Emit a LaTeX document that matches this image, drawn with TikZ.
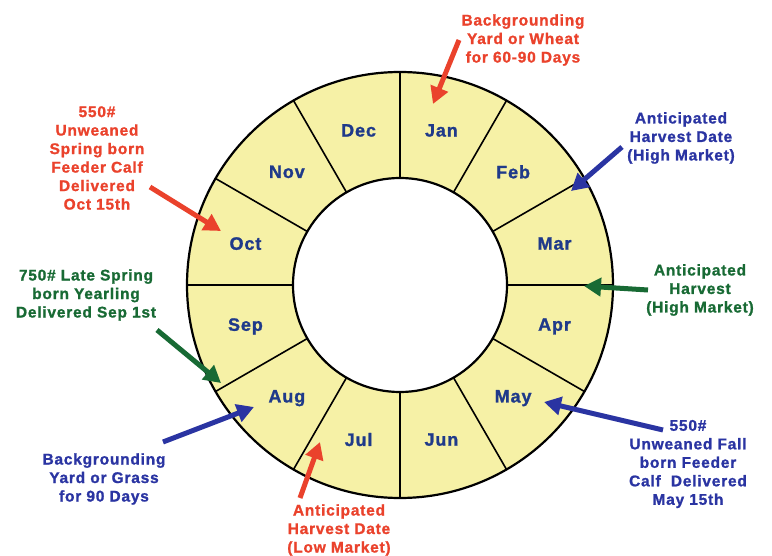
\documentclass[tikz,border=0pt]{standalone}
\usepackage{fontspec}
\setmainfont{Liberation Sans}
\newfontfamily\wideb[LetterSpace=5, FakeBold=1.2]{Liberation Sans Bold}
\usetikzlibrary{arrows.meta}
\definecolor{ringfill}{RGB}{246,241,166}
\definecolor{monthblue}{RGB}{31,58,138}
\definecolor{annred}{RGB}{234,66,44}
\definecolor{annblue}{RGB}{42,52,162}
\definecolor{anngreen}{RGB}{24,106,52}
\tikzset{
  monthlabel/.style={font=\fontsize{18}{20}\selectfont\wideb, text=monthblue, inner sep=0pt},
  annot/.style={font=\fontsize{15.5}{18.5}\selectfont\wideb, align=center, inner sep=0pt},
  callout/.style={line width=5pt, -{Triangle[length=17pt,width=18pt]}},
}
\begin{document}
\begin{tikzpicture}[x=1pt,y=-1pt]
\useasboundingbox (0,0) rectangle (772,556);
\begin{scope}[shift={(400,285)}, y=1pt]
  \fill[ringfill, even odd rule] (0,0) circle (213) (0,0) circle (107);
  \foreach \a in {0,30,...,330} \draw[line width=1.6pt] (\a:107) -- (\a:213);
  \draw[line width=2.2pt] (0,0) circle (213);
  \draw[line width=2.2pt] (0,0) circle (107);
  \node[monthlabel] (jan) at (75:160) {Jan};
  \node[monthlabel] (feb) at (45:160) {Feb};
  \node[monthlabel] (mar) at (15:160) {Mar};
  \node[monthlabel] (apr) at (-15:160) {Apr};
  \node[monthlabel] (may) at (-45:160) {May};
  \node[monthlabel] (jun) at (-75:160) {Jun};
  \node[monthlabel] (jul) at (-105:160) {Jul};
  \node[monthlabel] (aug) at (-135:160) {Aug};
  \node[monthlabel] (sep) at (-165:160) {Sep};
  \node[monthlabel] (oct) at (165:160) {Oct};
  \node[monthlabel] (nov) at (135:160) {Nov};
  \node[monthlabel] (dec) at (105:160) {Dec};
\end{scope}
% annotations
\node[annot, text=annred] (t1) at (523,40) {Backgrounding\\Yard or Wheat\\for 60-90 Days};
\node[annot, text=annblue] (t2) at (681,138) {Anticipated\\Harvest Date\\(High Market)};
\node[annot, text=anngreen] (t3) at (700,290) {Anticipated\\Harvest\\(High Market)};
\node[annot, text=annblue] (t4) at (688,464) {550\#\\Unweaned Fall\\born Feeder\\Calf~~Delivered\\May 15th};
\node[annot, text=annred] (t5) at (339,530) {Anticipated\\Harvest Date\\(Low Market)};
\node[annot, text=annblue] (t6) at (104,479) {Backgrounding\\Yard or Grass\\for 90 Days};
\node[annot, text=anngreen] (t7) at (86,295) {750\# Late Spring\\born Yearling\\Delivered Sep 1st};
\node[annot, text=annred] (t8) at (97,158) {550\#\\Unweaned\\Spring born\\Feeder Calf\\Delivered\\Oct 15th};
% arrow ends
\coordinate (s1) at (459,40);  \coordinate (e1) at (433,104);
\coordinate (s2) at (622,147); \coordinate (e2) at (571,191);
\coordinate (s3) at (648,290); \coordinate (e3) at (584,286);
\coordinate (s4) at (663,430); \coordinate (e4) at (544,402);
\coordinate (s5) at (300,498); \coordinate (e5) at (320,442);
\coordinate (s6) at (163,442); \coordinate (e6) at (254,407);
\coordinate (s7) at (157,330); \coordinate (e7) at (221,383);
\coordinate (s8) at (150,187); \coordinate (e8) at (221,231);
\draw[callout, annred] (s1) -- (e1);
\draw[callout, annblue] (s2) -- (e2);
\draw[callout, anngreen] (s3) -- (e3);
\draw[callout, annblue] (s4) -- (e4);
\draw[callout, annred] (s5) -- (e5);
\draw[callout, annblue] (s6) -- (e6);
\draw[callout, anngreen] (s7) -- (e7);
\draw[callout, annred] (s8) -- (e8);
\end{tikzpicture}
\end{document}
